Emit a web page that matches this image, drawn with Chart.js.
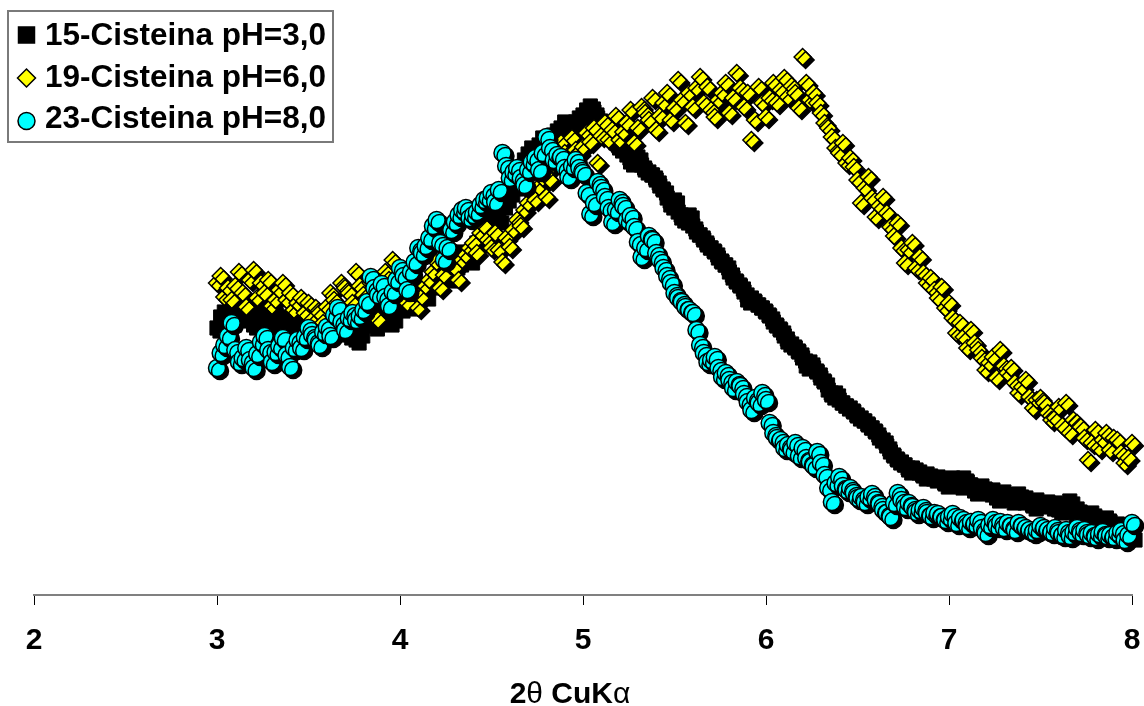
<!DOCTYPE html>
<html>
<head>
<meta charset="utf-8">
<script src="https://cdn.jsdelivr.net/npm/chart.js@4.4.1/dist/chart.umd.min.js"></script>
<style>
  html, body { margin: 0; padding: 0; background: #fff; }
  #wrap { width: 1144px; height: 706px; }
</style>
</head>
<body>
<div id="wrap"><canvas id="c" width="1144" height="706"></canvas></div>
<script>
// 2θ positions (degrees)
const twoTheta = [
  3.00,3.02,3.04,3.06,3.08,3.10,3.12,3.14,3.16,3.18,3.20,3.22,3.24,3.26,3.28,3.30,3.32,3.34,3.36,3.38,3.40,3.42,3.44,3.46,3.48,
  3.50,3.52,3.54,3.56,3.58,3.60,3.62,3.64,3.66,3.68,3.70,3.72,3.74,3.76,3.78,3.80,3.82,3.84,3.86,3.88,3.90,3.92,3.94,3.96,3.98,
  4.00,4.02,4.04,4.06,4.08,4.10,4.12,4.14,4.16,4.18,4.20,4.22,4.24,4.26,4.28,4.30,4.32,4.34,4.36,4.38,4.40,4.42,4.44,4.46,4.48,
  4.50,4.52,4.54,4.56,4.58,4.60,4.62,4.64,4.66,4.68,4.70,4.72,4.74,4.76,4.78,4.80,4.82,4.84,4.86,4.88,4.90,4.92,4.94,4.96,4.98,
  5.00,5.02,5.04,5.06,5.08,5.10,5.12,5.14,5.16,5.18,5.20,5.22,5.24,5.26,5.28,5.30,5.32,5.34,5.36,5.38,5.40,5.42,5.44,5.46,5.48,
  5.50,5.52,5.54,5.56,5.58,5.60,5.62,5.64,5.66,5.68,5.70,5.72,5.74,5.76,5.78,5.80,5.82,5.84,5.86,5.88,5.90,5.92,5.94,5.96,5.98,
  6.00,6.02,6.04,6.06,6.08,6.10,6.12,6.14,6.16,6.18,6.20,6.22,6.24,6.26,6.28,6.30,6.32,6.34,6.36,6.38,6.40,6.42,6.44,6.46,6.48,
  6.50,6.52,6.54,6.56,6.58,6.60,6.62,6.64,6.66,6.68,6.70,6.72,6.74,6.76,6.78,6.80,6.82,6.84,6.86,6.88,6.90,6.92,6.94,6.96,6.98,
  7.00,7.02,7.04,7.06,7.08,7.10,7.12,7.14,7.16,7.18,7.20,7.22,7.24,7.26,7.28,7.30,7.32,7.34,7.36,7.38,7.40,7.42,7.44,7.46,7.48,
  7.50,7.52,7.54,7.56,7.58,7.60,7.62,7.64,7.66,7.68,7.70,7.72,7.74,7.76,7.78,7.80,7.82,7.84,7.86,7.88,7.90,7.92,7.94,7.96,7.98,8.00
];
// intensities (arbitrary units)
const cist15_pH3 = [
  270,281,286,268,276,290,298,284,280,291,273,279,288,276,270,285,278,270,266,281,273,268,280,286,276,
  272,283,276,278,286,280,271,276,282,273,268,263,270,258,265,276,287,280,272,278,288,283,276,280,295,
  290,296,298,292,303,310,308,302,313,318,320,328,326,320,328,333,336,346,343,338,348,355,358,364,370,
  376,383,378,393,400,406,412,418,428,438,444,450,446,453,460,458,455,463,467,470,476,473,470,476,480,
  483,488,492,486,480,476,470,466,463,455,450,452,443,436,438,441,433,428,426,423,418,412,408,400,393,
  398,386,380,378,383,372,366,363,358,353,350,346,340,336,333,326,320,316,312,306,298,300,296,293,290,
  286,282,276,272,268,262,256,254,250,246,240,232,236,230,226,220,216,208,203,205,198,195,192,190,186,
  182,180,177,173,170,166,160,158,152,146,142,138,136,133,128,130,128,126,122,124,122,120,121,118,114,
  116,120,118,113,120,116,113,107,110,112,108,106,108,100,104,106,103,98,101,104,98,100,96,92,98,
  95,94,96,92,95,88,90,93,97,86,89,84,80,83,85,80,76,78,80,76,72,74,72,68,66,61
];
const cist19_pH6 = [
  315,322,301,310,298,312,326,305,291,318,328,300,315,305,318,292,298,308,315,298,305,288,295,300,285,
  295,278,290,285,275,291,305,298,285,315,310,305,295,326,312,303,290,315,300,278,310,326,318,338,305,
  325,312,295,318,305,290,301,312,318,326,336,310,323,335,348,330,318,338,343,350,355,345,365,372,358,
  350,365,348,336,360,351,368,378,372,388,395,405,398,411,420,401,418,433,440,455,445,438,460,448,445,
  451,465,456,470,435,462,475,458,468,482,458,466,475,488,455,470,491,485,478,500,468,482,495,505,478,
  490,518,498,475,505,491,510,521,495,511,488,481,498,505,515,485,500,525,510,491,505,458,478,511,495,
  481,500,515,495,508,520,501,512,505,490,541,515,498,505,495,485,475,470,461,450,445,455,435,440,431,
  418,395,410,421,400,381,392,401,385,371,362,375,350,335,348,355,330,341,325,315,320,308,300,311,290,
  295,280,265,275,261,250,268,255,248,240,228,235,241,220,248,232,225,230,215,205,211,218,201,190,198,
  200,195,185,178,180,191,172,195,165,178,175,171,160,138,155,168,150,158,165,148,160,158,145,135,140,155
];
const cist23_pH8 = [
  230,245,253,262,275,248,236,240,250,238,230,244,256,262,248,236,246,252,260,243,231,250,258,250,261,
  270,263,258,253,266,271,262,283,290,276,268,280,285,278,282,288,296,321,310,303,314,301,292,306,318,
  330,322,308,326,336,350,345,352,360,372,378,355,338,350,368,376,383,388,390,380,383,386,393,398,400,
  405,396,408,445,432,420,426,430,420,413,428,436,440,428,445,461,450,438,443,441,430,421,432,438,430,
  425,405,384,395,416,410,401,390,376,388,398,392,378,382,371,356,341,350,362,358,345,338,330,322,315,
  305,300,296,291,288,285,268,253,245,236,238,241,230,221,225,218,210,216,212,204,196,188,200,195,205,
  198,175,165,160,158,150,153,148,155,142,150,140,136,132,146,135,123,110,96,115,121,112,108,110,105,
  100,101,96,101,104,98,94,88,85,81,95,105,98,91,95,91,86,88,90,85,82,85,84,81,78,
  81,84,75,80,78,72,76,74,78,70,65,73,78,72,76,70,75,72,68,75,72,70,68,66,68,
  72,70,68,66,70,65,63,68,62,66,70,65,68,63,65,61,64,66,62,63,61,65,67,58,63,75
];
const seriesLabels = ['15-Cisteina pH=3,0', '19-Cisteina pH=6,0', '23-Cisteina pH=8,0'];
const xTickValues = [2, 3, 4, 5, 6, 7, 8];
// axis title pieces: [text, bold?]  -> "2θ CuKα"
const xTitleParts = [['2', true], ['\u03B8', false], [' CuK', true], ['\u03B1', false]];

const toPts = arr => twoTheta.map((x, i) => ({ x: x, y: arr[i] }));
const FONT = '"Liberation Sans", Arial, sans-serif';

const shadowPlugin = {
  id: 'markerShadow',
  beforeDatasetDraw(chart) {
    const c = chart.ctx;
    c.save();
    c.shadowColor = '#000';
    c.shadowOffsetX = 3;
    c.shadowOffsetY = 3;
    c.shadowBlur = 0;
  },
  afterDatasetDraw(chart) { chart.ctx.restore(); }
};

const titlePlugin = {
  id: 'axisTitle',
  afterDraw(chart) {
    const ctx = chart.ctx;
    ctx.save();
    ctx.fillStyle = '#000';
    ctx.textBaseline = 'alphabetic';
    ctx.textAlign = 'left';
    const fonts = xTitleParts.map(p => (p[1] ? 'bold ' : '') + '30px ' + FONT);
    let total = 0;
    const widths = xTitleParts.map((p, i) => { ctx.font = fonts[i]; const w = ctx.measureText(p[0]).width; total += w; return w; });
    let x = 570 - total / 2;
    xTitleParts.forEach((p, i) => { ctx.font = fonts[i]; ctx.fillText(p[0], x, 703); x += widths[i]; });
    ctx.restore();
  }
};

const legendPlugin = {
  id: 'boxLegend',
  afterDraw(chart) {
    const ctx = chart.ctx;
    ctx.save();
    ctx.fillStyle = '#fff';
    ctx.fillRect(8, 11, 325, 131);
    ctx.strokeStyle = '#7a7a7a';
    ctx.lineWidth = 2;
    ctx.strokeRect(8, 11, 325, 131);
    const markY = [35, 78, 121];
    const baseY = [45, 87, 128];
    const legRad = [11.3, 9, 8.5];
    chart.data.datasets.forEach((ds, i) => {
      ctx.fillStyle = ds.pointBackgroundColor;
      ctx.strokeStyle = ds.pointBorderColor;
      ctx.lineWidth = 1.5;
      Chart.helpers.drawPoint(ctx, { pointStyle: ds.pointStyle, radius: legRad[i], rotation: 0, borderWidth: 1.5 }, 26.5, markY[i]);
      ctx.fillStyle = '#000';
      ctx.font = 'bold 31.5px ' + FONT;
      ctx.textBaseline = 'alphabetic';
      ctx.textAlign = 'left';
      ctx.fillText(ds.label, 45, baseY[i]);
    });
    ctx.restore();
  }
};

new Chart(document.getElementById('c'), {
  type: 'scatter',
  data: {
    datasets: [
      { label: seriesLabels[0], data: toPts(cist15_pH3), pointStyle: 'rect', pointRadius: 10, pointHoverRadius: 10,
        pointBackgroundColor: '#000000', pointBorderColor: '#000000', pointBorderWidth: 1, order: 3, clip: false },
      { label: seriesLabels[1], data: toPts(cist19_pH6), pointStyle: 'rectRot', pointRadius: 8.5, pointHoverRadius: 8.5,
        pointBackgroundColor: '#ffff00', pointBorderColor: '#000000', pointBorderWidth: 1.5, order: 2, clip: false },
      { label: seriesLabels[2], data: toPts(cist23_pH8), pointStyle: 'circle', pointRadius: 8.5, pointHoverRadius: 8.5,
        pointBackgroundColor: '#00ffff', pointBorderColor: '#000000', pointBorderWidth: 1.5, order: 1, clip: false }
    ]
  },
  options: {
    responsive: false,
    animation: false,
    devicePixelRatio: 1,
    layout: { autoPadding: false, padding: { left: 34, right: 12, top: 0, bottom: 0 } },
    plugins: { legend: { display: false }, tooltip: { enabled: false } },
    scales: {
      x: {
        type: 'linear',
        min: 2, max: 8,
        afterBuildTicks: s => { s.ticks = xTickValues.map(v => ({ value: v })); },
        afterFit: s => { s.height = 111; s.paddingLeft = 0; s.paddingRight = 0; },
        ticks: { color: '#000', padding: 18, font: { family: FONT, size: 30, weight: 'bold' } },
        grid: { drawOnChartArea: false, drawTicks: true, tickLength: 10, tickColor: '#000', tickWidth: 1 },
        border: { display: true, color: '#808080', width: 2 },
        title: { display: false }
      },
      y: { display: false, min: 3, max: 598 }
    }
  },
  plugins: [shadowPlugin, legendPlugin, titlePlugin]
});
</script>
</body>
</html>
